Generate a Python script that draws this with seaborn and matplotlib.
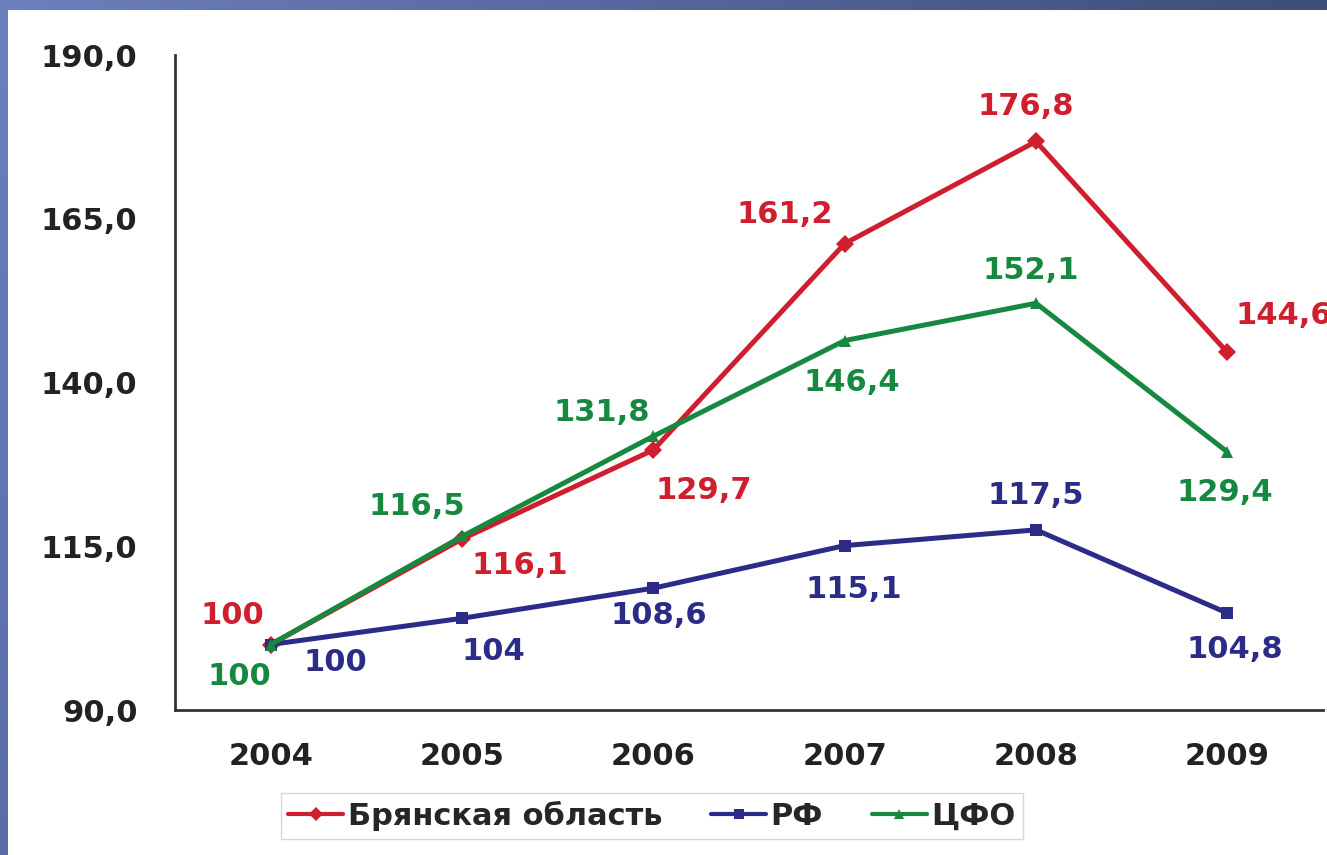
import numpy as np
import pandas as pd
import matplotlib
matplotlib.use("Agg")
import matplotlib.pyplot as plt
import seaborn as sns

years = ["2004", "2005", "2006", "2007", "2008", "2009"]
series_names = ["Брянская область", "РФ", "ЦФО"]
bryansk = [100, 116.1, 129.7, 161.2, 176.8, 144.6]
rf = [100, 104, 108.6, 115.1, 117.5, 104.8]
cfo = [100, 116.5, 131.8, 146.4, 152.1, 129.4]
label_bryansk = ["100", "116,1", "129,7", "161,2", "176,8", "144,6"]
label_rf = ["100", "104", "108,6", "115,1", "117,5", "104,8"]
label_cfo = ["100", "116,5", "131,8", "146,4", "152,1", "129,4"]
y_ticks = [90, 115, 140, 165, 190]
y_tick_labels = ["90,0", "115,0", "140,0", "165,0", "190,0"]

colors = {"Брянская область": "#cf1f2e", "РФ": "#2b2b88", "ЦФО": "#16883f"}
markers = {"Брянская область": "D", "РФ": "s", "ЦФО": "^"}

rows = []
for name, vals in zip(series_names, [bryansk, rf, cfo]):
    for i, v in enumerate(vals):
        rows.append({"pos": i, "value": v, "series": name})
df = pd.DataFrame(rows)

sns.set_style("white")
plt.rcParams["font.family"] = ["DejaVu Sans"]
plt.rcParams["font.weight"] = "bold"

FS = 22

fig = plt.figure(figsize=(13.27, 8.55), dpi=100)

# background frame (blue border on top and left)
H, W = 855, 1327
img = np.ones((H, W, 3))
t = np.linspace(0, 1, W)[None, :, None]
c_left = np.array([0x6c, 0x80, 0xbe]) / 255
c_right = np.array([0x3f, 0x4d, 0x7a]) / 255
img[:11, :, :] = c_left * (1 - t) + c_right * t
v = np.linspace(0, 1, H)[:, None, None]
c_top = np.array([0x6b, 0x80, 0xbf]) / 255
c_bot = np.array([0x5a, 0x6d, 0xa6]) / 255
img[:, :8, :] = c_top * (1 - v) + c_bot * v
bg = fig.add_axes([0, 0, 1, 1], zorder=-10)
bg.imshow(img, aspect="auto", interpolation="nearest")
bg.axis("off")

ax = fig.add_axes([175 / W, 1 - 710 / H, (1323 - 175) / W, (710 - 55) / H])
ax.patch.set_alpha(0)

sns.lineplot(data=df, x="pos", y="value", hue="series", style="series",
             palette=colors, markers=markers, dashes=False, linewidth=3.6,
             markersize=9, markeredgewidth=0, ax=ax, legend=True)

ax.set_xlim(-0.5, len(years) - 0.5)
ax.set_ylim(90, 190)
ax.set_yticks(y_ticks)
ax.set_yticklabels(y_tick_labels)
ax.set_xticks(range(len(years)))
ax.set_xticklabels(years)
ax.set_xticks(np.arange(-0.5, len(years)), minor=True)
ax.tick_params(axis="x", which="major", length=0, pad=23, labelsize=FS, labelcolor="#222222")
ax.tick_params(axis="x", which="minor", length=9, width=1.5, color="#333333", direction="out")
ax.tick_params(axis="y", which="major", length=9, width=1.5, color="#333333", direction="out",
               pad=18, labelsize=FS, labelcolor="#222222")
ax.set_xlabel("")
ax.set_ylabel("")
for s in ["top", "right"]:
    ax.spines[s].set_visible(False)
for s in ["left", "bottom"]:
    ax.spines[s].set_color("#333333")
    ax.spines[s].set_linewidth(2)

# data labels (offsets in pixels)
off_bryansk = [(-38, 29), (58, -26), (50, -41), (-60, 29), (-10, 35), (56, 37)]
off_rf = [(65, -18), (31, -33), (5, -27), (9, -44), (0, 34), (7, -36)]
off_cfo = [(-31, -32), (-45, 30), (-52, 24), (7, -42), (-5, 33), (-3, -41)]
for vals, labs, offs, name in [(bryansk, label_bryansk, off_bryansk, "Брянская область"),
                               (rf, label_rf, off_rf, "РФ"),
                               (cfo, label_cfo, off_cfo, "ЦФО")]:
    for i, (val, lab, o) in enumerate(zip(vals, labs, offs)):
        ax.annotate(lab, (i, val), xytext=o, textcoords="offset pixels",
                    ha="center", va="center", fontsize=FS, fontweight="bold",
                    color=colors[name], annotation_clip=False, clip_on=False)

handles, labels = ax.get_legend_handles_labels()
ax.get_legend().remove()
leg = fig.legend(handles, labels, loc="center", bbox_to_anchor=(652 / W, 1 - 816 / H),
                 ncol=3, frameon=True, fontsize=FS, handlelength=1.8, handletextpad=0.15,
                 columnspacing=1.6, borderpad=0.25, borderaxespad=0, fancybox=False)
leg.get_frame().set_edgecolor("#cccccc")
leg.get_frame().set_linewidth(1)
for h in leg.legend_handles:
    h.set_linewidth(3)
    h.set_markersize(7)

fig.savefig("out.png", dpi=100)
